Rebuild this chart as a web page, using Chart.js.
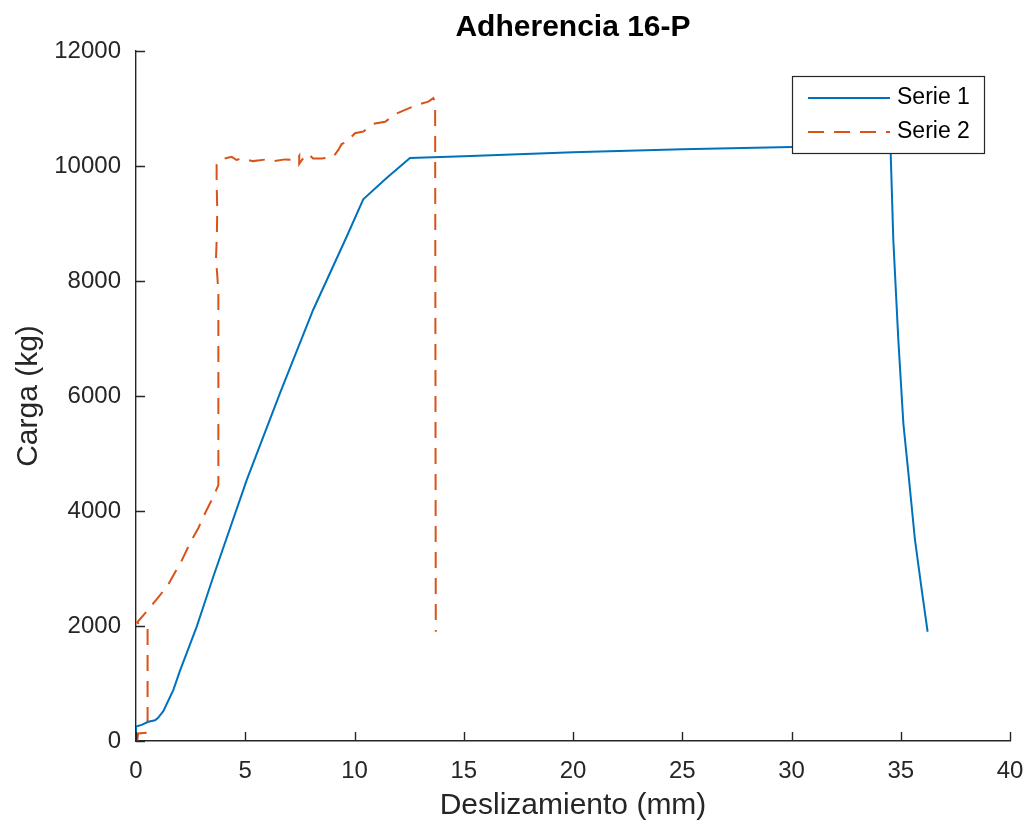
<!DOCTYPE html>
<html>
<head>
<meta charset="utf-8">
<title>Adherencia 16-P</title>
<script src="https://cdn.jsdelivr.net/npm/chart.js@4.4.1/dist/chart.umd.min.js"></script>
<style>
    html, body { margin: 0; padding: 0; background: #ffffff; }
    #wrap { width: 1027px; height: 828px; }
</style>
</head>
<body>
<div id="wrap"><canvas id="grafico" width="1027" height="828"></canvas></div>
<script>
// Datos
const serie1X = [0, 0, 0.26, 0.56, 0.87, 1.0, 1.25, 1.71, 2.01, 2.78, 3.54, 5.07, 6.59, 8.11, 9.64, 10.4, 11.47, 12.54, 15, 20, 25, 30, 34.45, 34.54, 34.66, 34.89, 35.12, 35.35, 35.65, 35.96, 36.23];
const serie1Y = [0, 250, 280, 335, 360, 400, 520, 890, 1220, 1990, 2860, 4540, 6050, 7500, 8770, 9420, 9790, 10140, 10170, 10240, 10290, 10330, 10390, 10220, 8710, 6970, 5520, 4660, 3500, 2630, 1900];

const serie2X = [0.05, 0.1, 0.49, 0.53, 0.53, 0.05, 0.55, 1.0, 1.46, 1.77, 2.07, 2.47, 2.85, 3.16, 3.54, 3.77, 3.77, 3.72, 3.66, 3.7, 3.72, 3.69, 3.69, 3.92, 4.38, 4.6, 4.84, 5.13, 5.35, 5.98, 6.34, 6.82, 7.35, 7.47, 7.47, 7.6, 7.89, 8.1, 8.5, 9.03, 9.26, 9.41, 9.64, 10.02, 10.4, 10.94, 11.4, 11.93, 12.85, 13.38, 13.61, 13.69, 13.72];
const serie2Y = [0, 130, 145, 200, 1950, 2060, 2280, 2490, 2710, 2920, 3120, 3440, 3700, 3960, 4250, 4450, 7790, 8100, 8370, 8800, 9230, 9700, 10020, 10120, 10160, 10105, 10135, 10105, 10085, 10115, 10085, 10115, 10100, 10175, 10035, 10110, 10210, 10130, 10130, 10160, 10280, 10380, 10420, 10570, 10600, 10740, 10770, 10915, 11060, 11120, 11180, 11090, 1900];

const etiquetas = ['Serie 1', 'Serie 2'];
const ticksX = [0, 5, 10, 15, 20, 25, 30, 35, 40];
const ticksY = [0, 2000, 4000, 6000, 8000, 10000, 12000];

const FUENTE = "'Liberation Sans', Arial, Helvetica, sans-serif";
const GRIS = '#262626';

function aPuntos(xs, ys) {
    return xs.map((x, i) => ({ x: x, y: ys[i] }));
}

// Marcas de los ejes hacia dentro y leyenda con recuadro (estilo MATLAB)
const estiloMatlab = {
    id: 'estiloMatlab',
    afterDraw(chart) {
        const c = chart.ctx;
        const area = chart.chartArea;
        const sx = chart.scales.x;
        const sy = chart.scales.y;
        c.save();
        c.strokeStyle = GRIS;
        c.lineWidth = 1.4;
        c.beginPath();
        ticksX.forEach(v => {
            const px = Math.round(sx.getPixelForValue(v)) + 0.5;
            c.moveTo(px, area.bottom);
            c.lineTo(px, area.bottom - 9);
        });
        ticksY.forEach(v => {
            const py = Math.round(sy.getPixelForValue(v)) + 0.5;
            c.moveTo(area.left, py);
            c.lineTo(area.left + 9, py);
        });
        c.stroke();

        // leyenda
        const lx = area.right - 218, ly = area.top + 25, lw = 192, lh = 77;
        c.fillStyle = '#ffffff';
        c.fillRect(lx, ly, lw, lh);
        c.strokeStyle = GRIS;
        c.lineWidth = 1.2;
        c.strokeRect(lx + 0.5, ly + 0.5, lw, lh);
        c.font = '23px ' + FUENTE;
        c.textBaseline = 'middle';
        c.textAlign = 'left';
        chart.data.datasets.forEach((ds, i) => {
            const yy = ly + 22 + i * 34;
            c.strokeStyle = ds.borderColor;
            c.lineWidth = ds.borderWidth;
            c.setLineDash(ds.borderDash || []);
            c.beginPath();
            c.moveTo(lx + 16, yy);
            c.lineTo(lx + 98, yy);
            c.stroke();
            c.setLineDash([]);
            c.fillStyle = '#000000';
            c.fillText(ds.label, lx + 105, yy);
        });
        c.restore();
    }
};

function sinRelleno(s) {
    s.paddingLeft = 0;
    s.paddingRight = 0;
    s.paddingTop = 0;
    s.paddingBottom = 0;
}

const ctx = document.getElementById('grafico').getContext('2d');
const grafico = new Chart(ctx, {
    type: 'scatter',
    data: {
        datasets: [{
            label: etiquetas[0],
            data: aPuntos(serie1X, serie1Y),
            showLine: true,
            borderColor: '#0072BD',
            borderWidth: 2,
            pointRadius: 0,
            tension: 0,
            fill: false
        }, {
            label: etiquetas[1],
            data: aPuntos(serie2X, serie2Y),
            showLine: true,
            borderColor: '#D95319',
            borderWidth: 2,
            borderDash: [16, 10],
            pointRadius: 0,
            tension: 0,
            fill: false
        }]
    },
    options: {
        responsive: false,
        animation: false,
        layout: { padding: { left: 0, right: 17, top: 0, bottom: 0 } },
        plugins: {
            legend: { display: false },
            tooltip: { enabled: false },
            title: {
                display: true,
                text: 'Adherencia 16-P',
                fullSize: false,
                color: '#000000',
                font: { family: FUENTE, size: 30, weight: 'bold', lineHeight: 1.2 },
                padding: { top: 10, bottom: 5 }
            }
        },
        scales: {
            x: {
                type: 'linear',
                min: 0,
                max: 40,
                afterFit: s => { s.height = 87; sinRelleno(s); },
                afterBuildTicks: s => { s.ticks = ticksX.map(v => ({ value: v })); },
                grid: { display: false, drawTicks: false, drawOnChartArea: false },
                border: { display: true, color: GRIS, width: 1.4 },
                ticks: {
                    color: GRIS,
                    padding: 16,
                    maxRotation: 0,
                    font: { family: FUENTE, size: 24 },
                    callback: v => String(v)
                },
                title: {
                    display: true,
                    text: 'Deslizamiento (mm)',
                    color: GRIS,
                    font: { family: FUENTE, size: 30, lineHeight: 1.2 },
                    padding: { top: 0, bottom: 4 }
                }
            },
            y: {
                type: 'linear',
                min: 0,
                max: 12000,
                afterFit: s => { s.width = 136; sinRelleno(s); },
                afterBuildTicks: s => { s.ticks = ticksY.map(v => ({ value: v })); },
                grid: { display: false, drawTicks: false, drawOnChartArea: false },
                border: { display: true, color: GRIS, width: 1.4 },
                ticks: {
                    color: GRIS,
                    padding: 15,
                    font: { family: FUENTE, size: 24 },
                    callback: v => String(v)
                },
                title: {
                    display: true,
                    text: 'Carga (kg)',
                    color: GRIS,
                    font: { family: FUENTE, size: 30, lineHeight: 1.2 },
                    padding: { top: 11, bottom: 0 }
                }
            }
        }
    },
    plugins: [estiloMatlab]
});
</script>
</body>
</html>
